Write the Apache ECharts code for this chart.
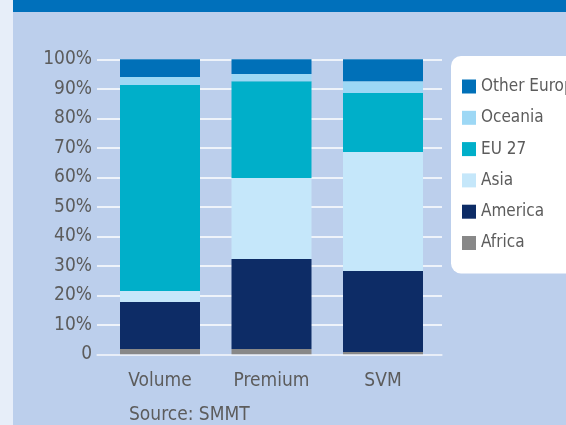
<!DOCTYPE html>
<html>
<head>
<meta charset="utf-8">
<script src="https://cdn.jsdelivr.net/npm/echarts@6/dist/echarts.min.js"></script>
<style>
  html, body { margin: 0; padding: 0; background: #bccfec; }
  #chart { width: 566px; height: 425px; }
</style>
</head>
<body>
<div id="chart"></div>
<script>
// Share of exports by destination, per vehicle segment (%)
const categories = ['Volume', 'Premium', 'SVM'];
const africa      = [1.8, 1.8, 0.8];
const america     = [15.9, 30.5, 27.4];
const asia        = [3.8, 27.5, 40.4];
const eu27        = [69.8, 32.8, 20.0];
const oceania     = [2.7, 2.4, 4.0];
const otherEurope = [6.0, 5.0, 7.4];
const yTicks = [0, 10, 20, 30, 40, 50, 60, 70, 80, 90, 100];

const FONT = '"Liberation Sans Narrow", "DejaVu Sans Condensed", "Roboto", sans-serif';
const TEXT = '#5c5c5c';

const seriesDefs = [
  { name: 'Africa',       data: africa,      color: '#888888' },
  { name: 'America',      data: america,     color: '#0d2c66' },
  { name: 'Asia',         data: asia,        color: '#c5e7fa' },
  { name: 'EU 27',        data: eu27,        color: '#00afc9' },
  { name: 'Oceania',      data: oceania,     color: '#9dd8f5' },
  { name: 'Other Europe', data: otherEurope, color: '#0070b8' }
];

const chart = echarts.init(document.getElementById('chart'), null, { renderer: 'canvas' });

chart.setOption({
  backgroundColor: '#bccfec',
  animation: false,
  textStyle: { fontFamily: FONT },
  graphic: [
    { type: 'rect', left: 0, top: 0, shape: { width: 13, height: 425 }, style: { fill: '#e7eef9' }, z: -10 },
    { type: 'rect', left: 13, top: 0, shape: { width: 553, height: 12 }, style: { fill: '#0070bb' }, z: -10 },
    { type: 'text', left: 129, top: 406, style: { text: 'Source: SMMT', fill: TEXT, font: '19px ' + FONT } }
  ],
  legend: {
    data: seriesDefs.map(s => s.name).reverse(),
    orient: 'vertical',
    left: 451,
    top: 56,
    backgroundColor: '#ffffff',
    borderRadius: 10,
    padding: [22, 80, 22, 11],
    itemWidth: 14,
    itemHeight: 14,
    itemGap: 14.3,
    icon: 'rect',
    selectedMode: false,
    textStyle: { color: TEXT, fontSize: 17, fontFamily: FONT }
  },
  grid: [
    { left: 97, width: 345, top: 59.3, height: 295 },
    { left: 104.25, width: 334.5, top: 59.3, height: 295 }
  ],
  xAxis: [
    {
      gridIndex: 0, type: 'category', data: [''],
      axisLine: { show: true, lineStyle: { color: '#e6edf8', width: 1.5 } },
      axisTick: { show: false }, axisLabel: { show: false }
    },
    {
      gridIndex: 1, type: 'category', data: categories,
      axisLine: { show: false }, axisTick: { show: false },
      axisLabel: { color: TEXT, fontSize: 19, fontFamily: FONT, margin: 17, interval: 0 }
    }
  ],
  yAxis: [
    {
      gridIndex: 0, type: 'value', min: 0, max: 100, interval: 10,
      axisLine: { show: false }, axisTick: { show: false },
      splitLine: { show: true, lineStyle: { color: '#ffffff', width: 1.5 } },
      axisLabel: {
        color: TEXT, fontSize: 19, fontFamily: FONT, margin: 5,
        formatter: v => (yTicks.includes(v) ? (v === 0 ? '0' : v + '%') : '')
      }
    },
    {
      gridIndex: 1, type: 'value', min: 0, max: 100, show: false
    }
  ],
  series: seriesDefs.map(s => ({
    name: s.name,
    type: 'bar',
    stack: 'share',
    xAxisIndex: 1,
    yAxisIndex: 1,
    barWidth: 80,
    data: s.data,
    itemStyle: { color: s.color },
    emphasis: { disabled: true }
  }))
});
</script>
</body>
</html>
